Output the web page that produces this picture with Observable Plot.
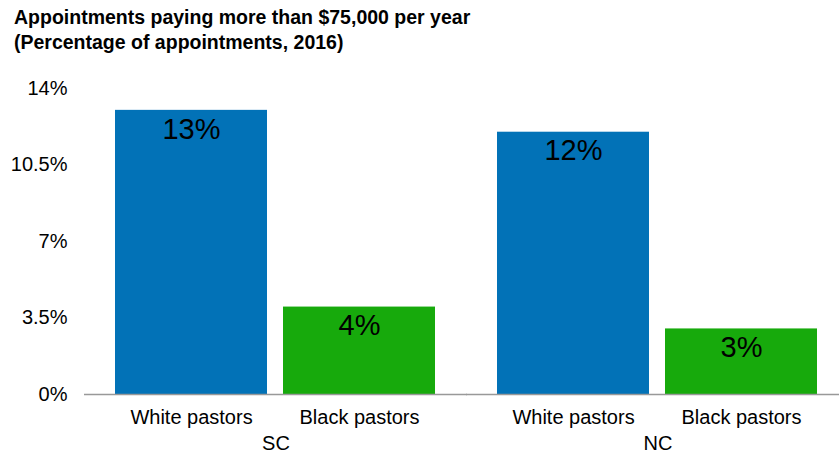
<!DOCTYPE html>
<html>
<head>
<meta charset="utf-8">
<script src="https://cdn.jsdelivr.net/npm/d3@7"></script>
<script src="https://cdn.jsdelivr.net/npm/@observablehq/plot@0.6"></script>
<style>
  html, body { margin: 0; padding: 0; background: #fff; }
  body { width: 839px; height: 453px; overflow: hidden; font-family: "Liberation Sans", Arial, Helvetica, sans-serif; }
  #title { box-sizing: border-box; height: 60px; padding: 5px 0 0 14px; font-size: 19.5px; font-weight: bold; line-height: 25px; color: #000; }
  svg { display: block; }
</style>
</head>
<body>
<div id="title">Appointments paying more than $75,000 per year<br>(Percentage of appointments, 2016)</div>
<div id="chart"></div>
<script>
const states = ["SC", "NC"];
const groups = ["White pastors", "Black pastors"];
const scValues = [13, 4];
const ncValues = [12, 3];
const yTicks = [0, 3.5, 7, 10.5, 14];
const colors = ["#0272b7", "#17aa0c"];

const data = [];
[scValues, ncValues].forEach((vals, i) => {
  vals.forEach((v, j) => data.push({state: states[i], group: groups[j], value: v}));
});

const chart = Plot.plot({
  width: 839,
  height: 393,
  marginLeft: 83,
  marginRight: 0,
  marginTop: 28,
  marginBottom: 59,
  style: {fontFamily: "'Liberation Sans', Arial, Helvetica, sans-serif", color: "#000", background: "#fff"},
  fx: {domain: states, paddingInner: 0.16, paddingOuter: 0.067, align: 0.6, label: null},
  x: {domain: groups, paddingInner: 0.095, paddingOuter: 0, label: null},
  y: {domain: [0, 14], label: null},
  color: {domain: groups, range: colors},
  marks: [
    Plot.barY(data, {fx: "state", x: "group", y: "value", fill: "group"}),
    Plot.ruleY([0], {stroke: "#999", strokeWidth: 1.5, insetLeft: -31, insetRight: -31}),
    Plot.text(data, {fx: "state", x: "group", y: "value", text: d => d.value + "%", dy: 19, fontSize: 29, fill: "#000"}),
    Plot.axisY({ticks: yTicks, tickFormat: d => d + "%", tickSize: 0, tickPadding: 48, fontSize: 20, label: null}),
    Plot.axisX({tickSize: 0, tickPadding: 15, fontSize: 20, label: null}),
    Plot.axisFx({anchor: "bottom", tickSize: 0, tickPadding: 41, fontSize: 20, label: null})
  ]
});
document.getElementById("chart").appendChild(chart);
</script>
</body>
</html>
